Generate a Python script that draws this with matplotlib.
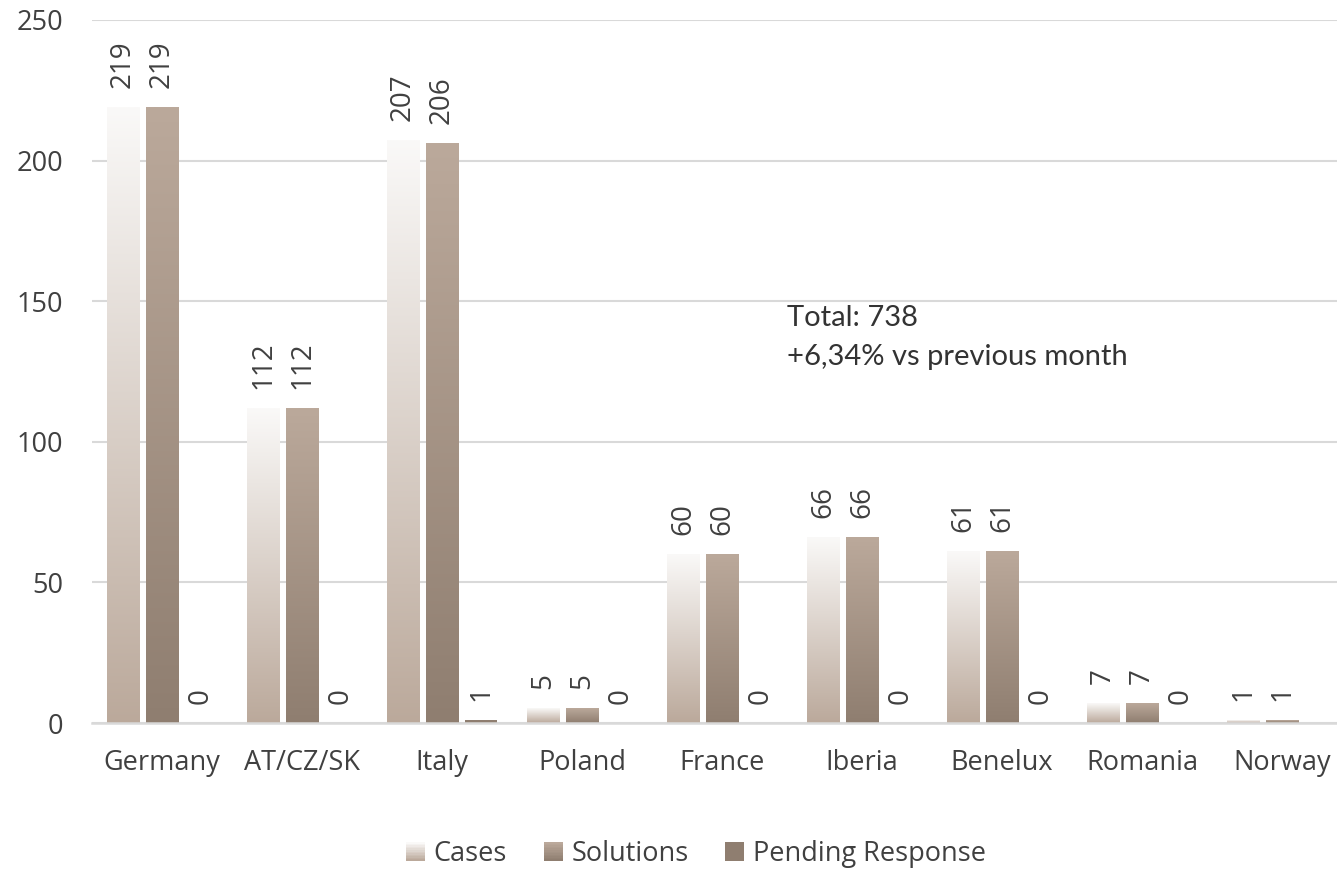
import numpy as np
import matplotlib
matplotlib.use('Agg')
import matplotlib.pyplot as plt
from matplotlib.patches import Rectangle
from matplotlib.legend_handler import HandlerBase
from matplotlib.colors import to_rgb

plt.rcParams['font.family'] = ['Open Sans', 'DejaVu Sans']

countries = ['Germany', 'AT/CZ/SK', 'Italy', 'Poland', 'France',
             'Iberia', 'Benelux', 'Romania', 'Norway']
cases = [219, 112, 207, 5, 60, 66, 61, 7, 1]
solutions = [219, 112, 206, 5, 60, 66, 61, 7, 1]
# no pending value shown for Norway
pending = [0, 0, 1, 0, 0, 0, 0, 0, np.nan]
series_names = ['Cases', 'Solutions', 'Pending Response']

TXT = '#404040'
GRID = '#d9d9d9'
grad_cases = ('#faf9f8', '#bba99b')
grad_sol = ('#bba99b', '#8f7e70')
col_pend = '#8f7e70'
FS = 19.5


def gradient_img(top, bottom, n=256):
    t = np.linspace(0, 1, n)[:, None]
    c0 = np.array(to_rgb(top))
    c1 = np.array(to_rgb(bottom))
    return (c0 * (1 - t) + c1 * t).reshape(n, 1, 3)


def gradient_bar(ax, x, h, w, colors):
    if not h > 0:
        return
    ax.imshow(gradient_img(*colors), extent=[x - w / 2, x + w / 2, 0, h],
              aspect='auto', interpolation='bilinear', zorder=2)


class GradHandler(HandlerBase):
    def __init__(self, colors):
        super().__init__()
        self.colors = colors

    def create_artists(self, legend, orig, xd, yd, width, height, fontsize, trans):
        arts = []
        n = 12
        c0 = np.array(to_rgb(self.colors[0]))
        c1 = np.array(to_rgb(self.colors[1]))
        for k in range(n):
            t = k / (n - 1)
            c = c0 * (1 - t) + c1 * t
            r = Rectangle((-xd, -yd + height * (1 - (k + 1) / n)), width,
                          height / n, facecolor=c, edgecolor='none', transform=trans)
            arts.append(r)
        return arts


fig = plt.figure(figsize=(13.37, 8.72), dpi=100)
W, H = 1337, 872
ax = fig.add_axes([92 / W, (H - 723) / H, 1260 / W, 703 / H])

x = np.arange(len(countries))
bw = 0.229
off = 0.279

for i in range(len(countries)):
    gradient_bar(ax, x[i] - off, cases[i], bw, grad_cases)
    gradient_bar(ax, x[i], solutions[i], bw, grad_sol)
ax.bar(x + off, np.nan_to_num(pending), bw, color=col_pend, zorder=2)

for xs, vals in [(x - off, cases), (x, solutions), (x + off, pending)]:
    for xi, v in zip(xs, vals):
        if np.isnan(v):
            continue
        ax.annotate(str(int(v)), (xi, v), xytext=(0, 14), textcoords='offset points',
                    rotation=90, ha='center', va='bottom', fontsize=20, color=TXT)

ax.set_xlim(-0.5, 8.5)
ax.set_ylim(0, 250)
ax.set_yticks([0, 50, 100, 150, 200, 250])
ax.set_xticks(x)
ax.set_xticklabels(countries)
ax.yaxis.grid(True, color=GRID, linewidth=1.5, zorder=0)
ax.set_axisbelow(True)
for s in ['top', 'right', 'left']:
    ax.spines[s].set_visible(False)
ax.spines['bottom'].set_color(GRID)
ax.spines['bottom'].set_linewidth(1.8)
ax.tick_params(axis='both', length=0, labelsize=FS, labelcolor=TXT)
ax.tick_params(axis='y', pad=21)
ax.tick_params(axis='x', pad=19)

fig.text(787 / W, 1 - 326 / H, 'Total: 738', fontsize=21, color='#333333',
         family=['Lato', 'DejaVu Sans'], va='baseline')
fig.text(787 / W, 1 - 365 / H, '+6,34% vs previous month', fontsize=21, color='#333333',
         family=['Lato', 'DejaVu Sans'], va='baseline')

h1 = Rectangle((0, 0), 1, 1)
h2 = Rectangle((0, 0), 1, 1)
h3 = Rectangle((0, 0), 1, 1, facecolor=col_pend)
leg = fig.legend([h1, h2, h3], series_names, loc='center',
                 bbox_to_anchor=(696 / W, 1 - 854 / H), ncol=3, frameon=False,
                 fontsize=FS, handlelength=0.7, handleheight=0.7,
                 handletextpad=0.33, columnspacing=1.35,
                 handler_map={h1: GradHandler(grad_cases), h2: GradHandler(grad_sol)})
for t in leg.get_texts():
    t.set_color(TXT)

fig.savefig('out.png', dpi=100)
